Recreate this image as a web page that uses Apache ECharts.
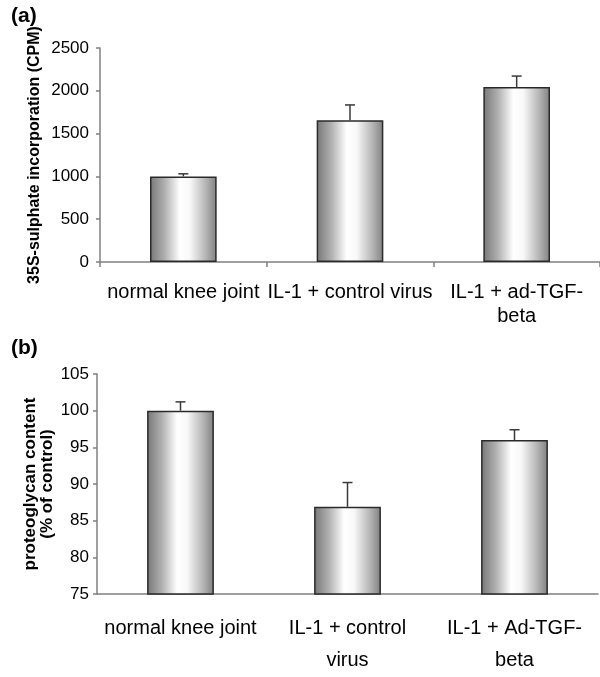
<!DOCTYPE html>
<html>
<head>
<meta charset="utf-8">
<script src="https://cdn.jsdelivr.net/npm/echarts@6/dist/echarts.min.js"></script>
<style>
html,body{margin:0;padding:0;background:#fff;}
#chart{width:600px;height:677px;}
</style>
</head>
<body>
<div id="chart"></div>
<script>
// Panel (a)
var catsA = ['normal knee joint', 'IL-1 + control virus', 'IL-1 + ad-TGF-\nbeta'];
var meansA = [1000, 1655, 2045];
var errTopA = [1030, 1835, 2172];
var ticksA = {min: 0, max: 2500, interval: 500};
// Panel (b)
var catsB = ['normal knee joint', 'IL-1 + control\nvirus', 'IL-1 + Ad-TGF-\nbeta'];
var meansB = [100, 86.9, 96];
var errTopB = [101.2, 90.2, 97.4];
var ticksB = {min: 75, max: 105, interval: 5};

var FONT = '"Liberation Sans", Arial, sans-serif';
var axisGray = '#808080';

var barGrad = new echarts.graphic.LinearGradient(0, 0, 1, 0, [
  {offset: 0, color: '#777777'},
  {offset: 0.22, color: '#b0b0b0'},
  {offset: 0.45, color: '#ffffff'},
  {offset: 0.6, color: '#f8f8f8'},
  {offset: 0.84, color: '#b4b4b4'},
  {offset: 1, color: '#808080'}
]);

function errData(means, tops) {
  return means.map(function (m, i) { return [i, m, tops[i]]; });
}

function errRender(params, api) {
  var x = api.value(0), m = api.value(1), t = api.value(2);
  var p0 = api.coord([x, m]);
  var p1 = api.coord([x, t]);
  var style = {stroke: '#3a3a3a', lineWidth: 1.5};
  return {
    type: 'group',
    children: [
      {type: 'line', shape: {x1: p0[0], y1: p0[1], x2: p1[0], y2: p1[1]}, style: style},
      {type: 'line', shape: {x1: p1[0] - 5, y1: p1[1], x2: p1[0] + 5, y2: p1[1]}, style: style}
    ]
  };
}

function plain(v) { return String(v); }

var chart = echarts.init(document.getElementById('chart'), null, {renderer: 'canvas'});
chart.setOption({
  animation: false,
  backgroundColor: '#ffffff',
  textStyle: {fontFamily: FONT},
  title: [
    {text: '(a)', left: 6, top: 1, textStyle: {fontFamily: FONT, fontWeight: 'bold', fontSize: 21, color: '#000'}},
    {text: '(b)', left: 6, top: 333, textStyle: {fontFamily: FONT, fontWeight: 'bold', fontSize: 21, color: '#000'}}
  ],
  grid: [
    {left: 100, top: 48, width: 504, height: 214},
    {left: 97, top: 374, width: 501, height: 220}
  ],
  xAxis: [
    {
      type: 'category', gridIndex: 0, data: catsA,
      axisLine: {lineStyle: {color: axisGray, width: 1.5}},
      axisTick: {show: true, length: 5, lineStyle: {color: axisGray, width: 1.5}},
      axisLabel: {interval: 0, margin: 18, fontSize: 20, lineHeight: 24, color: '#000', fontFamily: FONT}
    },
    {
      type: 'category', gridIndex: 1, data: catsB,
      axisLine: {lineStyle: {color: axisGray, width: 1.5}},
      axisTick: {show: false},
      axisLabel: {interval: 0, margin: 18, fontSize: 20, lineHeight: 32, color: '#000', fontFamily: FONT}
    }
  ],
  yAxis: [
    {
      type: 'value', gridIndex: 0, min: ticksA.min, max: ticksA.max, interval: ticksA.interval,
      name: '35S-sulphate incorporation (CPM)', nameLocation: 'middle', nameRotate: 90, nameGap: 57,
      nameMoveOverlap: false,
      nameTextStyle: {fontFamily: FONT, fontWeight: 'bold', fontSize: 16, color: '#000'},
      axisLine: {show: true, lineStyle: {color: axisGray, width: 1.5}},
      axisTick: {show: true, length: 4, lineStyle: {color: axisGray, width: 1.5}},
      axisLabel: {margin: 11, fontSize: 17, color: '#000', fontFamily: FONT, formatter: plain},
      splitLine: {show: false}
    },
    {
      type: 'value', gridIndex: 1, min: ticksB.min, max: ticksB.max, interval: ticksB.interval,
      name: 'proteoglycan content\n(% of control)', nameLocation: 'middle', nameRotate: 90, nameGap: 41,
      nameMoveOverlap: false,
      nameTextStyle: {fontFamily: FONT, fontWeight: 'bold', fontSize: 17, lineHeight: 17, color: '#000', align: 'center'},
      axisLine: {show: true, lineStyle: {color: axisGray, width: 1.5}},
      axisTick: {show: true, length: 4, lineStyle: {color: axisGray, width: 1.5}},
      axisLabel: {margin: 8, fontSize: 17, color: '#000', fontFamily: FONT, formatter: plain},
      splitLine: {show: false}
    }
  ],
  series: [
    {
      type: 'bar', xAxisIndex: 0, yAxisIndex: 0, data: meansA, barWidth: '40%',
      itemStyle: {color: barGrad, borderColor: '#2a2a2a', borderWidth: 1.5}
    },
    {
      type: 'custom', xAxisIndex: 0, yAxisIndex: 0, data: errData(meansA, errTopA),
      renderItem: errRender, z: 5
    },
    {
      type: 'bar', xAxisIndex: 1, yAxisIndex: 1, data: meansB, barWidth: '40%',
      itemStyle: {color: barGrad, borderColor: '#2a2a2a', borderWidth: 1.5}
    },
    {
      type: 'custom', xAxisIndex: 1, yAxisIndex: 1, data: errData(meansB, errTopB),
      renderItem: errRender, z: 5
    }
  ]
});
</script>
</body>
</html>
